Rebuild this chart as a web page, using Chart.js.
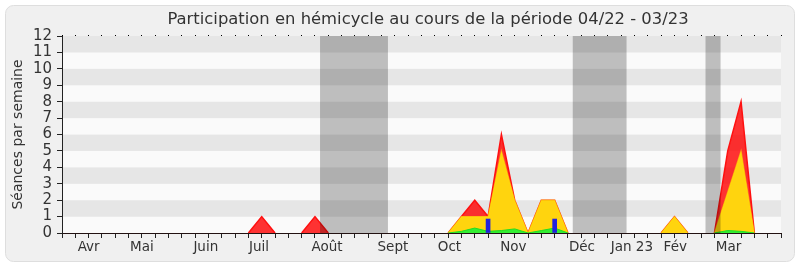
<!DOCTYPE html>
<html>
<head>
<meta charset="utf-8">
<script src="https://cdn.jsdelivr.net/npm/chart.js@4/dist/chart.umd.min.js"></script>
<style>
  html, body { margin: 0; padding: 0; background: #ffffff; }
  #wrap { width: 800px; height: 267px; }
</style>
</head>
<body>
<div id="wrap"><canvas id="c" width="800" height="267"></canvas></div>
<script>
// Weekly participation, week index 0 = first week of April 2022
const weeks = Array.from({ length: 55 }, (_, i) => i);

// Séances (total presence weeks) — red
const seances = [
  0, 0, 0, 0, 0, 0, 0, 0, 0, 0, 0, 0, 0, 0, 0,
  1, 0, 0, 0, 1,
  0, 0, 0, 0, 0, 0, 0, 0, 0, 0,
  1, 2, 1, 6, 2, 0, 2, 2, 0,
  0, 0, 0, 0, 0, 0, 0,
  1, 0, 0, 0,
  5, 8, 0, 0, 0
];
// Présences en hémicycle — yellow
const presences = [
  0, 0, 0, 0, 0, 0, 0, 0, 0, 0, 0, 0, 0, 0, 0,
  0, 0, 0, 0, 0,
  0, 0, 0, 0, 0, 0, 0, 0, 0, 0,
  1, 1, 1, 5, 2, 0, 2, 2, 0,
  0, 0, 0, 0, 0, 0, 0,
  1, 0, 0, 0,
  2.5, 5, 0, 0, 0
];
// Interventions — green
const interventions = [
  0, 0, 0, 0, 0, 0, 0, 0, 0, 0, 0, 0, 0, 0, 0,
  0, 0, 0, 0, 0,
  0, 0, 0, 0, 0, 0, 0, 0, 0, 0,
  0.1, 0.3, 0.1, 0.15, 0.25, 0, 0.15, 0.3, 0,
  0, 0, 0, 0, 0, 0, 0,
  0, 0, 0, 0,
  0.15, 0.1, 0, 0, 0
];
// Questions orales — blue bars
const questionWeeks = [32, 37];
const questionValues = [0.85, 0.85];

// Month tick labels and their positions on the week axis
const monthLabels = ['Avr', 'Mai', 'Juin', 'Juil', 'Août', 'Sept', 'Oct', 'Nov', 'Déc', 'Jan 23', 'Fév', 'Mar'];
const monthPos = [2, 6, 10.8, 14.8, 19.9, 24.85, 29.1, 33.9, 39.05, 42.8, 46.06, 50.06];

// Parliamentary recess periods (week index ranges)
const vacStart = [19.38, 38.36, 48.33];
const vacEnd = [24.48, 42.4, 49.46];

const yTicks = [0, 1, 2, 3, 4, 5, 6, 7, 8, 9, 10, 11, 12];

const toXY = arr => arr.map((v, i) => ({ x: weeks[i], y: v }));

const FONT = '"DejaVu Sans", Verdana, sans-serif';

// hide line segments lying flat on the baseline
const flatHidden = {
  borderColor: c => (c.p0.parsed.y === 0 && c.p1.parsed.y === 0) ? 'rgba(0,0,0,0)' : undefined
};

const panelPlugin = {
  id: 'panel',
  beforeDraw(chart) {
    const { ctx, chartArea: a, scales } = chart;
    ctx.save();
    // rounded panel
    const x = 5.5, y = 5.5, w = 789, h = 256, r = 8;
    ctx.beginPath();
    ctx.moveTo(x + r, y);
    ctx.arcTo(x + w, y, x + w, y + h, r);
    ctx.arcTo(x + w, y + h, x, y + h, r);
    ctx.arcTo(x, y + h, x, y, r);
    ctx.arcTo(x, y, x + w, y, r);
    ctx.closePath();
    ctx.fillStyle = '#f0f0f0';
    ctx.fill();
    ctx.strokeStyle = '#dedede';
    ctx.lineWidth = 1;
    ctx.stroke();
    // horizontal stripes
    const ys = scales.y;
    for (let k = 0; k < yTicks.length - 1; k++) {
      const y0 = ys.getPixelForValue(yTicks[k]);
      const y1 = ys.getPixelForValue(yTicks[k + 1]);
      ctx.fillStyle = (k % 2 === 1) ? '#e6e6e6' : '#fafafa';
      ctx.fillRect(a.left, y1, a.right - a.left, y0 - y1);
    }
    ctx.restore();
  },
  afterDatasetsDraw(chart) {
    const { ctx, chartArea: a, scales } = chart;
    ctx.save();
    ctx.fillStyle = 'rgba(0,0,0,0.24)';
    for (let k = 0; k < vacStart.length; k++) {
      const x0 = scales.x.getPixelForValue(vacStart[k]);
      const x1 = scales.x.getPixelForValue(vacEnd[k]);
      ctx.fillRect(x0, a.top, x1 - x0, a.bottom - a.top);
    }
    ctx.restore();
  },
  afterDraw(chart) {
    const { ctx } = chart;
    ctx.save();
    ctx.font = '16.4px ' + FONT;
    ctx.fillStyle = '#333333';
    ctx.textAlign = 'center';
    ctx.textBaseline = 'middle';
    ctx.fillText('Participation en hémicycle au cours de la période 04/22 - 03/23', 428, 20);
    ctx.restore();
  }
};

new Chart(document.getElementById('c'), {
  type: 'line',
  data: {
    datasets: [
      {
        type: 'bar',
        label: 'Questions orales',
        data: questionWeeks.map((w, i) => ({ x: w, y: questionValues[i] })),
        backgroundColor: '#2222dd',
        borderWidth: 0,
        barThickness: 4,
        order: 0
      },
      {
        label: 'Interventions',
        data: toXY(interventions),
        borderColor: '#22dd22',
        backgroundColor: '#33ee33',
        borderWidth: 1,
        fill: 'origin',
        pointRadius: 0,
        tension: 0,
        segment: flatHidden,
        order: 1
      },
      {
        label: 'Présences',
        data: toXY(presences),
        borderColor: 'rgba(255,235,0,0.55)',
        backgroundColor: '#ffd40e',
        borderWidth: 1.2,
        fill: 'origin',
        pointRadius: 0,
        tension: 0,
        segment: flatHidden,
        order: 2
      },
      {
        label: 'Séances',
        data: toXY(seances),
        borderColor: '#ff1010',
        backgroundColor: 'rgba(255,0,0,0.8)',
        borderWidth: 1.5,
        fill: 'origin',
        pointRadius: 0,
        tension: 0,
        segment: flatHidden,
        order: 3
      }
    ]
  },
  options: {
    responsive: false,
    animation: false,
    events: [],
    layout: { padding: { left: 0, right: 19, top: 0, bottom: 0 } },
    plugins: { legend: { display: false }, tooltip: { enabled: false }, title: { display: false } },
    scales: {
      x: {
        type: 'linear', position: 'bottom', min: 0, max: 54, z: 1, offset: false,
        afterBuildTicks: s => { s.ticks = weeks.map(v => ({ value: v })); },
        afterFit: s => { s.height = 5; },
        ticks: { display: false },
        grid: { drawOnChartArea: false, drawTicks: true, tickLength: 5, color: '#222222', offset: false },
        border: { display: true, color: '#221111' }
      },
      xm: {
        type: 'linear', position: 'bottom', min: 0, max: 54, offset: false,
        afterBuildTicks: s => { s.ticks = monthPos.map(v => ({ value: v })); },
        afterFit: s => { s.height = 29; },
        ticks: {
          autoSkip: false, maxRotation: 0, padding: 1,
          color: '#333333', font: { family: FONT, size: 13.5 },
          callback: (v, i) => monthLabels[i]
        },
        grid: { display: false, drawTicks: false, offset: false },
        border: { display: false }
      },
      xt: {
        type: 'linear', position: 'top', min: 0, max: 54, z: 1, offset: false,
        afterBuildTicks: s => { s.ticks = weeks.map(v => ({ value: v })); },
        afterFit: s => { s.height = 36; },
        ticks: { display: false },
        grid: { drawOnChartArea: false, drawTicks: true, tickLength: 1, color: '#000000', offset: false },
        border: { display: false }
      },
      y: {
        min: 0, max: 12,
        afterBuildTicks: s => { s.ticks = yTicks.map(v => ({ value: v })); },
        afterFit: s => { s.width = 62; },
        ticks: { autoSkip: false, padding: 5, color: '#333333', font: { family: FONT, size: 15 } },
        grid: { drawOnChartArea: false, drawTicks: true, tickLength: 5, color: '#222222' },
        border: { display: true, color: '#222222' },
        title: {
          display: true, text: 'Séances par semaine', color: '#333333',
          font: { family: FONT, size: 14 }, padding: { top: 10, bottom: 0 }
        }
      }
    }
  },
  plugins: [panelPlugin]
});
</script>
</body>
</html>
